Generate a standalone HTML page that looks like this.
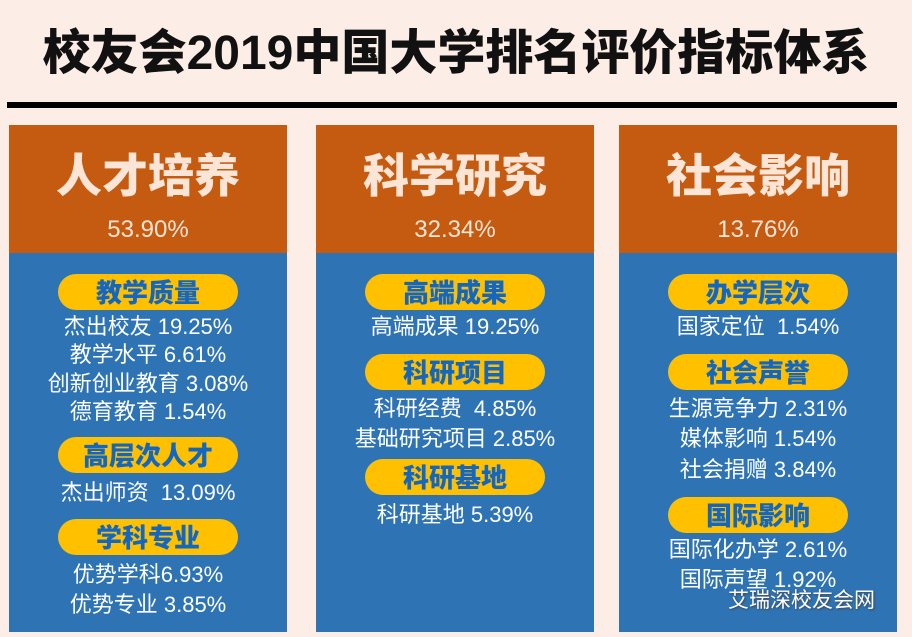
<!DOCTYPE html>
<html><head><meta charset="utf-8"><style>
body{margin:0;width:912px;height:637px;background:#fcede6;position:relative;overflow:hidden;font-family:"Liberation Sans","Noto Sans CJK SC",sans-serif}
.title{position:absolute;left:0;top:24px;width:912px;text-align:center;font-size:48px;font-weight:900;color:#111;letter-spacing:0;line-height:60px}
.rule{position:absolute;left:7px;top:102px;width:890px;height:6px;background:#000}
.col{position:absolute;top:125px;width:278px;height:507px;background:#2e74b5}
.head{height:128px;background:#c55a11;color:#fbe5d6;text-align:center}
.h1{font-size:46px;font-weight:900;padding-top:24px;line-height:54px}
.pct{font-size:24px;line-height:30px;margin-top:12px}
.pill{position:absolute;height:36px;border-radius:18px;background:#ffc000;color:#1467c0;font-size:26px;font-weight:900;text-align:center;line-height:38px}
.it{position:absolute;left:0;width:278px;text-align:center;color:#fff;font-size:22px;line-height:28px}
.wm{position:absolute;left:728px;top:584px;color:#fff;font-size:21px;text-shadow:1px 1px 2px #444}
</style></head><body>
<div class="title">校友会2019中国大学排名评价指标体系</div>
<div class="rule"></div>

<div class="col" style="left:9px">
<div class="head"><div class="h1">人才培养</div><div class="pct">53.90%</div></div>
<div class="pill" style="left:49px;top:149px;width:180px">教学质量</div>
<div class="it" style="top:188px">杰出校友 19.25%</div>
<div class="it" style="top:216px">教学水平 6.61%</div>
<div class="it" style="top:245px">创新创业教育 3.08%</div>
<div class="it" style="top:273px">德育教育 1.54%</div>
<div class="pill" style="left:49px;top:312px;width:180px">高层次人才</div>
<div class="it" style="top:354px">杰出师资&nbsp; 13.09%</div>
<div class="pill" style="left:49px;top:394px;width:180px">学科专业</div>
<div class="it" style="top:436px">优势学科6.93%</div>
<div class="it" style="top:466px">优势专业 3.85%</div>
</div>

<div class="col" style="left:316px">
<div class="head"><div class="h1">科学研究</div><div class="pct">32.34%</div></div>
<div class="pill" style="left:49px;top:149px;width:180px">高端成果</div>
<div class="it" style="top:188px">高端成果 19.25%</div>
<div class="pill" style="left:49px;top:229px;width:180px">科研项目</div>
<div class="it" style="top:270px">科研经费&nbsp; 4.85%</div>
<div class="it" style="top:300px">基础研究项目 2.85%</div>
<div class="pill" style="left:49px;top:334px;width:180px">科研基地</div>
<div class="it" style="top:376px">科研基地 5.39%</div>
</div>

<div class="col" style="left:619px">
<div class="head"><div class="h1">社会影响</div><div class="pct">13.76%</div></div>
<div class="pill" style="left:49px;top:149px;width:180px">办学层次</div>
<div class="it" style="top:188px">国家定位&nbsp; 1.54%</div>
<div class="pill" style="left:49px;top:229px;width:180px">社会声誉</div>
<div class="it" style="top:270px">生源竞争力 2.31%</div>
<div class="it" style="top:300px">媒体影响 1.54%</div>
<div class="it" style="top:331px">社会捐赠 3.84%</div>
<div class="pill" style="left:49px;top:372px;width:180px">国际影响</div>
<div class="it" style="top:411px">国际化办学 2.61%</div>
<div class="it" style="top:441px">国际声望 1.92%</div>
</div>
<div class="wm">艾瑞深校友会网</div>
</body></html>
